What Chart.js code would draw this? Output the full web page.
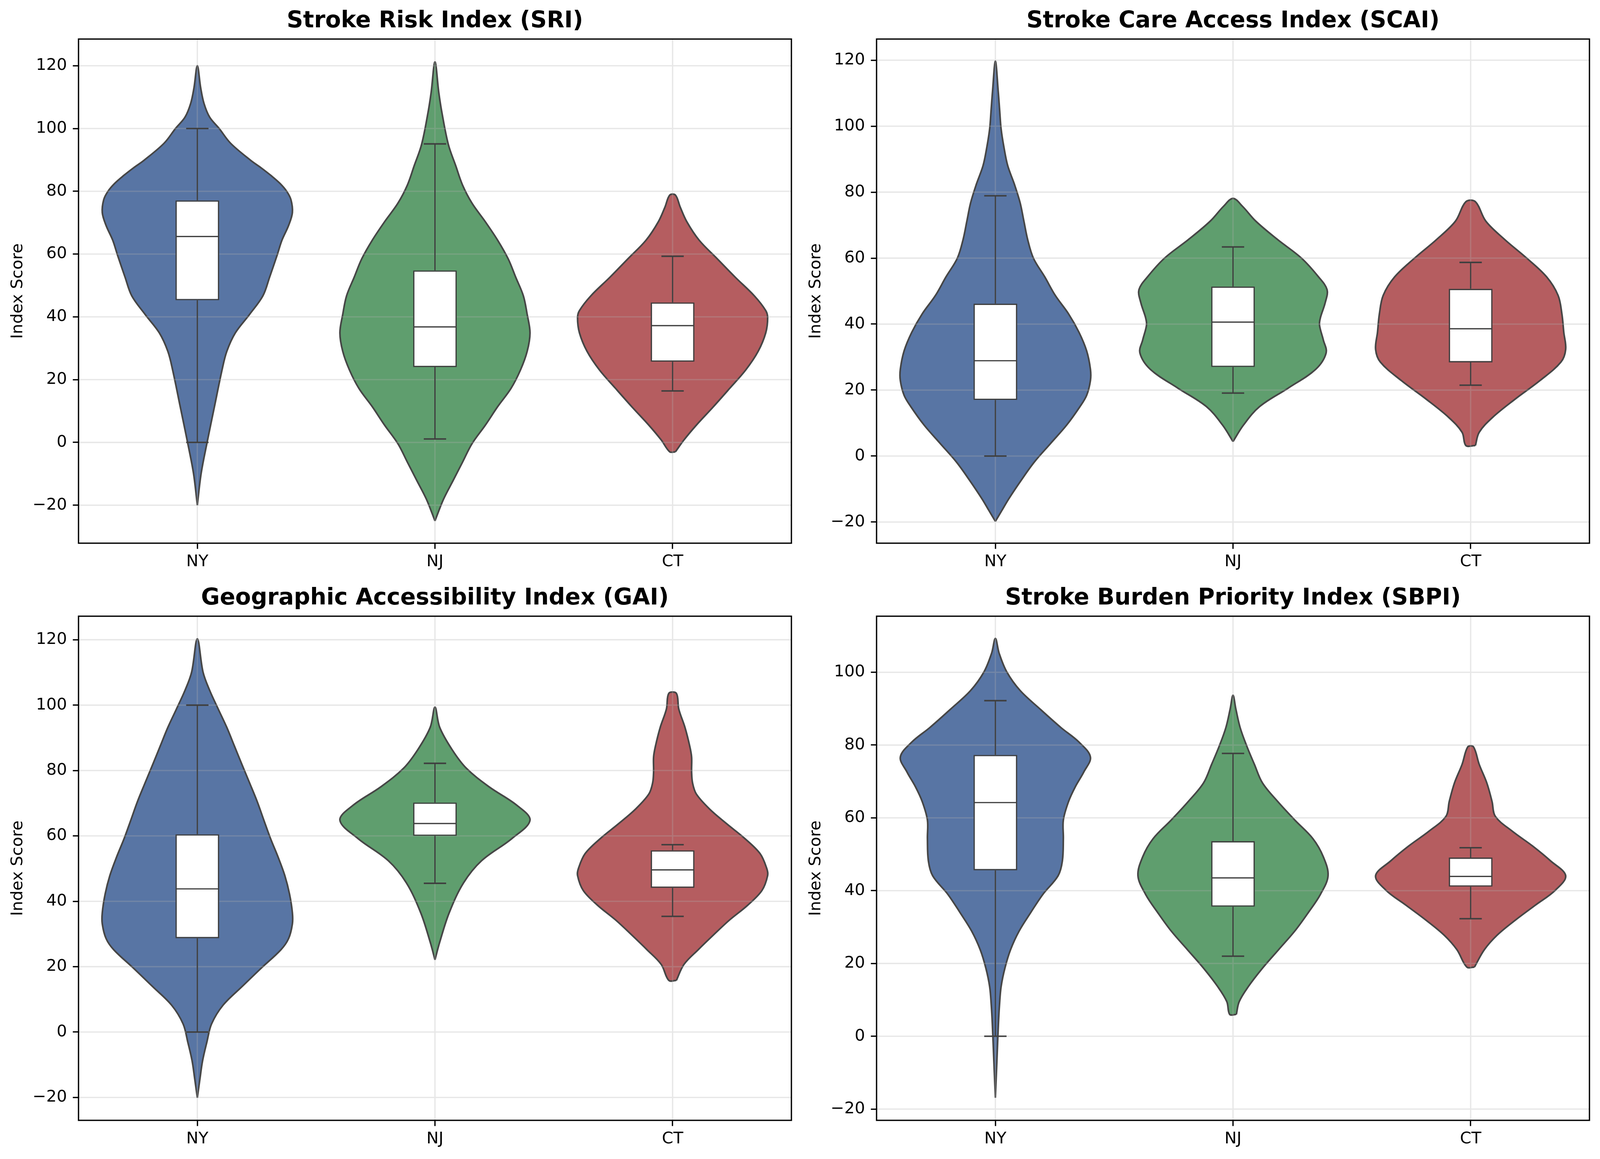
<!DOCTYPE html>
<html>
<head>
<meta charset="utf-8">
<title>Stroke indices by state</title>
<script src="https://cdn.jsdelivr.net/npm/chart.js@4.4.1/dist/chart.umd.min.js"></script>
<style>
  html, body { margin: 0; padding: 0; background: #fff; }
  body { width: 100vw; height: 2968px; position: relative; overflow: hidden; }
  .panel { position: absolute; }
  .panel canvas { display: block; }
</style>
</head>
<body>
<script>
// ---- data ----
const states = ["NY", "NJ", "CT"];
const titles = [
  "Stroke Risk Index (SRI)",
  "Stroke Care Access Index (SCAI)",
  "Geographic Accessibility Index (GAI)",
  "Stroke Burden Priority Index (SBPI)"
];
const yTicksTo120 = [-20, 0, 20, 40, 60, 80, 100, 120];
const yTicksTo100 = [-20, 0, 20, 40, 60, 80, 100];

// y limits of each panel
const sriRange = [-32.1, 128.5];
const scaiRange = [-26.4, 126.4];
const gaiRange = [-27.0, 127.2];
const sbpiRange = [-23.1, 115.4];

// violin outlines: [score, relative density width (1 = widest)]
const sriNY = [[-20,0],[-9.9,.04],[-0.4,.10],[11.4,.18],[23.1,.26],[29,.31],[34.9,.40],[40.8,.55],[46.7,.69],[52.6,.76],[59.7,.84],[64.4,.89],[69.1,.96],[73.2,1],[77.3,.985],[80,.94],[82.5,.87],[84.9,.78],[87.5,.67],[89.9,.56],[95.3,.35],[100,.23],[103.6,.13],[108,.07],[113,.035],[120,0]];
const sriNJ = [[-25,0],[-18.1,.09],[-12.2,.19],[-6.3,.29],[-0.4,.39],[5.5,.53],[11.4,.66],[17.2,.80],[23.1,.90],[29,.97],[34.9,1],[40.8,.97],[46.7,.93],[52.6,.85],[58.5,.77],[64.4,.66],[70.3,.53],[76.2,.39],[82,.29],[88,.22],[95,.14],[105.6,.07],[111.5,.04],[121.2,0]];
const sriCT = [[-3,.03],[0.8,.12],[5.5,.25],[11.4,.43],[17.2,.60],[23.1,.77],[29,.90],[34.9,.98],[39.7,1],[42,.98],[46.7,.86],[52.6,.66],[58.5,.47],[64.4,.28],[70.3,.15],[75,.08],[78.8,.03]];

const scaiNY = [[-19.8,0],[-16.4,.07],[-13,.14],[-7.4,.27],[-1.8,.41],[3.8,.58],[9.4,.75],[15,.89],[18.4,.96],[22.9,1],[26.3,1],[31.9,.96],[37.5,.88],[43.1,.77],[48.7,.63],[54.3,.52],[60,.4],[65.6,.34],[71.2,.3],[76.8,.26],[82.4,.2],[88,.13],[93.6,.09],[99.2,.06],[104.8,.045],[110.5,.03],[119.7,0]];
const scaiNJ = [[4.4,0],[9.4,.11],[15,.28],[20.6,.58],[26.3,.87],[31.3,.98],[35.2,.95],[39.7,.91],[42,.92],[46.5,.97],[50.4,.99],[54.3,.9],[60,.72],[65.6,.47],[71.2,.24],[75.7,.1],[78.1,0]];
const scaiCT = [[3.2,.05],[7.2,.09],[11.7,.23],[17.3,.47],[22.9,.73],[28.5,.95],[32.4,1],[37.5,.98],[43.1,.96],[48.7,.92],[54.3,.8],[60,.59],[65.6,.36],[71.2,.16],[77.1,.05]];

const gaiNY = [[-20.1,0],[-14.4,.027],[-8.8,.055],[-3.1,.1],[2.5,.15],[8.2,.27],[13.9,.47],[19.5,.67],[25.2,.88],[28.6,.96],[33.1,1],[36.5,1],[42.2,.97],[47.9,.92],[53.5,.85],[59.2,.77],[64.8,.7],[70.5,.63],[76.2,.55],[81.8,.47],[87.5,.39],[93.2,.31],[98.8,.22],[104.5,.13],[110.1,.06],[120.3,0]];
const gaiNJ = [[22.1,0],[27.5,.05],[36.5,.15],[45.6,.3],[52.4,.49],[59.2,.81],[64.8,1],[69.4,.86],[75,.57],[80.7,.33],[86.4,.18],[93.2,.05],[99.4,0]];
const gaiCT = [[15.8,.04],[20.7,.12],[25.2,.27],[29.7,.43],[34.3,.6],[38.8,.79],[43.3,.94],[47.9,1],[50.1,.99],[54.6,.92],[59.2,.76],[63.7,.57],[68.2,.39],[72.8,.25],[76.2,.21],[79.6,.2],[84.1,.2],[87.5,.18],[93.2,.13],[98.8,.065],[103.6,.04]];

const sbpiNY = [[-16.9,0],[-6.8,.016],[3.4,.032],[8.5,.043],[13.6,.06],[18.7,.1],[23.8,.16],[28.9,.25],[33.9,.37],[39,.5],[44.1,.66],[48.2,.705],[54.3,.715],[59.4,.715],[64.5,.77],[68.5,.84],[72.6,.93],[76.7,1],[80.8,.88],[84.8,.69],[89.9,.47],[95,.26],[100.1,.12],[105.2,.04],[109.3,0]];
const sbpiNJ = [[6,.035],[9.5,.065],[13.6,.16],[18.7,.31],[23.8,.48],[28.9,.65],[33.9,.79],[39,.92],[44.1,1],[49.3,.95],[54.3,.84],[59.4,.65],[64.5,.47],[69.6,.31],[74.7,.225],[79.7,.145],[84.8,.075],[89.9,.03],[93.7,0]];
const sbpiCT = [[19,.04],[23.8,.145],[27.8,.28],[31.9,.47],[36,.68],[40.1,.89],[44.1,1],[48.2,.84],[52.3,.65],[56.3,.44],[60.4,.26],[64.5,.225],[69.6,.17],[74.7,.09],[79.5,.03]];

// box plot statistics, order NY, NJ, CT
const sriQ1 = [45.3, 24.0, 25.7], sriMedian = [65.6, 36.8, 37.2], sriQ3 = [77.1, 54.8, 44.6];
const sriLow = [0, 1.1, 16.4], sriHigh = [100, 95.1, 59.3];
const scaiQ1 = [17.0, 27.0, 28.4], scaiMedian = [28.9, 40.6, 38.6], scaiQ3 = [46.2, 51.4, 50.7];
const scaiLow = [0, 19.1, 21.5], scaiHigh = [78.9, 63.4, 58.7];
const gaiQ1 = [28.7, 60.0, 44.1], gaiMedian = [43.8, 63.8, 49.6], gaiQ3 = [60.5, 70.2, 55.6];
const gaiLow = [0, 45.5, 35.4], gaiHigh = [100, 82.2, 57.3];
const sbpiQ1 = [45.6, 35.6, 41.1], sbpiMedian = [64.2, 43.5, 43.9], sbpiQ3 = [77.3, 53.6, 49.1];
const sbpiLow = [0, 22.0, 32.3], sbpiHigh = [92.2, 77.7, 51.8];

// ---- look ----
const PT = 300 / 72;                 // figure was 300 dpi
const SX = Math.min(1, window.innerWidth / 4167);   // viewport may be narrower than the figure
const violinFill = ["#5875a4", "#5f9e6e", "#b55d60"];
const violinEdge = "#464646";
const boxEdge = "#3f3f3f";
const VIOLIN_HALF = 0.4;             // widest half width, in category units
const BOX_HALF = 0.092, CAP_HALF = 0.047;
const axesLeft = [204, 2282], axesTop = [100, 1578];
const AXES_W = 1857, AXES_H = 1291;
const LEFT_SPACE = 204, TOP_SPACE = 100, BOTTOM_SPACE = 93, RIGHT_SPACE = 20;
const tickFont = { family: "DejaVu Sans", size: 10 * PT };
const titleFont = { family: "DejaVu Sans", size: 14 * PT, weight: "bold", lineHeight: 1 };

const panels = [
  { title: titles[0], range: sriRange, ticks: yTicksTo120, violins: [sriNY, sriNJ, sriCT],
    q1: sriQ1, median: sriMedian, q3: sriQ3, low: sriLow, high: sriHigh },
  { title: titles[1], range: scaiRange, ticks: yTicksTo120, violins: [scaiNY, scaiNJ, scaiCT],
    q1: scaiQ1, median: scaiMedian, q3: scaiQ3, low: scaiLow, high: scaiHigh },
  { title: titles[2], range: gaiRange, ticks: yTicksTo120, violins: [gaiNY, gaiNJ, gaiCT],
    q1: gaiQ1, median: gaiMedian, q3: gaiQ3, low: gaiLow, high: gaiHigh },
  { title: titles[3], range: sbpiRange, ticks: yTicksTo100, violins: [sbpiNY, sbpiNJ, sbpiCT],
    q1: sbpiQ1, median: sbpiMedian, q3: sbpiQ3, low: sbpiLow, high: sbpiHigh }
];

// outline of one violin: up the right side, back down the left side
function violinPoints(profile, center) {
  const right = profile.map(([v, w]) => ({ x: center + VIOLIN_HALF * w, y: v }));
  const left = profile.map(([v, w]) => ({ x: center - VIOLIN_HALF * w, y: v })).reverse();
  if (profile[profile.length - 1][1] === 0) left.shift();
  if (profile[0][1] > 0) left.push(right[0]);
  return right.concat(left);
}

function minusSign(v) {
  return v < 0 ? "\u2212" + Math.abs(v) : String(v);
}

// grid over the violins, whiskers, medians and the axes frame
const boxParts = {
  id: "boxParts",
  beforeDatasetDraw(chart, args) {
    if (args.meta.type !== "bar") return;
    const { ctx, chartArea: a, scales: { x, y } } = chart;
    ctx.save();
    ctx.strokeStyle = "rgba(176,176,176,0.3)";
    ctx.lineWidth = 0.8 * PT;
    ctx.beginPath();
    y.ticks.forEach(t => {
      const py = y.getPixelForValue(t.value);
      ctx.moveTo(a.left, py); ctx.lineTo(a.right, py);
    });
    x.ticks.forEach(t => {
      const px = x.getPixelForValue(t.value);
      ctx.moveTo(px, a.top); ctx.lineTo(px, a.bottom);
    });
    ctx.stroke();
    ctx.restore();
  },
  afterDatasetsDraw(chart, args, opts) {
    const { ctx, scales: { x, y } } = chart;
    ctx.save();
    ctx.strokeStyle = boxEdge;
    ctx.lineCap = "butt";
    states.forEach((s, i) => {
      const cx = x.getPixelForValue(i);
      const capL = x.getPixelForValue(i - CAP_HALF), capR = x.getPixelForValue(i + CAP_HALF);
      const boxL = x.getPixelForValue(i - BOX_HALF), boxR = x.getPixelForValue(i + BOX_HALF);
      const lo = y.getPixelForValue(opts.low[i]), hi = y.getPixelForValue(opts.high[i]);
      const q1 = y.getPixelForValue(opts.q1[i]), q3 = y.getPixelForValue(opts.q3[i]);
      const md = y.getPixelForValue(opts.median[i]);
      ctx.lineWidth = 3.2;
      ctx.beginPath();
      ctx.moveTo(cx, q1); ctx.lineTo(cx, lo);
      ctx.moveTo(cx, q3); ctx.lineTo(cx, hi);
      ctx.moveTo(boxL + 2, md); ctx.lineTo(boxR - 2, md);
      ctx.stroke();
      ctx.lineWidth = 3.8;
      ctx.beginPath();
      ctx.moveTo(capL, lo); ctx.lineTo(capR, lo);
      ctx.moveTo(capL, hi); ctx.lineTo(capR, hi);
      ctx.stroke();
    });
    ctx.restore();
  },
  afterDraw(chart) {
    const { ctx, chartArea: a } = chart;
    ctx.save();
    ctx.strokeStyle = "#000";
    ctx.lineWidth = 0.8 * PT;
    ctx.strokeRect(a.left, a.top, a.right - a.left, a.bottom - a.top);
    ctx.restore();
  }
};

Chart.defaults.font.family = "DejaVu Sans";
Chart.defaults.color = "#000";

panels.forEach((p, k) => {
  const col = k % 2, row = Math.floor(k / 2);
  const wrap = document.createElement("div");
  wrap.className = "panel";
  wrap.style.left = Math.round((axesLeft[col] - LEFT_SPACE) * SX) + "px";
  wrap.style.top = (axesTop[row] - TOP_SPACE) + "px";
  const canvas = document.createElement("canvas");
  canvas.width = Math.round((LEFT_SPACE + AXES_W + RIGHT_SPACE) * SX);
  canvas.height = TOP_SPACE + AXES_H + BOTTOM_SPACE;
  wrap.appendChild(canvas);
  document.body.appendChild(wrap);

  const datasets = [{
    type: "bar",
    data: states.map((s, i) => ({ x: i, y: [p.q1[i], p.q3[i]] })),
    backgroundColor: "#fff",
    borderColor: boxEdge,
    borderWidth: 3.4,
    borderSkipped: false,
    categoryPercentage: 1,
    barPercentage: 2 * BOX_HALF,
    order: 0
  }];
  p.violins.forEach((profile, i) => {
    datasets.push({
      type: "scatter",
      showLine: true,
      data: violinPoints(profile, i),
      fill: "shape",
      backgroundColor: violinFill[i],
      borderColor: violinEdge,
      borderWidth: 4.2,
      pointRadius: 0,
      tension: 0.35,
      order: 1
    });
  });

  new Chart(canvas, {
    type: "scatter",
    data: { datasets },
    plugins: [boxParts],
    options: {
      responsive: false,
      devicePixelRatio: 1,
      animation: false,
      events: [],
      layout: { padding: { left: 0, right: Math.round(RIGHT_SPACE * SX), top: 0, bottom: 0 } },
      plugins: {
        legend: { display: false },
        tooltip: { enabled: false },
        title: {
          display: true,
          text: p.title,
          fullSize: false,
          font: titleFont,
          color: "#000",
          padding: { top: 26, bottom: TOP_SPACE - 26 - titleFont.size }
        },
        boxParts: { q1: p.q1, median: p.median, q3: p.q3, low: p.low, high: p.high }
      },
      scales: {
        x: {
          type: "linear",
          min: -0.5,
          max: 2.5,
          offset: false,
          afterBuildTicks: s => { s.ticks = states.map((n, i) => ({ value: i })); },
          afterFit: s => { s.height = BOTTOM_SPACE; },
          ticks: {
            callback: v => states[Math.round(v)],
            font: tickFont,
            color: "#000",
            padding: 9,
            autoSkip: false,
            maxRotation: 0
          },
          grid: { offset: false, drawOnChartArea: false, tickLength: 3.5 * PT, tickColor: "#000", tickWidth: 0.8 * PT },
          border: { display: false }
        },
        y: {
          type: "linear",
          min: p.range[0],
          max: p.range[1],
          afterBuildTicks: s => { s.ticks = p.ticks.map(v => ({ value: v })); },
          afterFit: s => { s.width = Math.round(LEFT_SPACE * SX); },
          ticks: { callback: v => minusSign(v), font: tickFont, color: "#000", padding: 15 },
          grid: { drawOnChartArea: false, tickLength: 3.5 * PT, tickColor: "#000", tickWidth: 0.8 * PT },
          border: { display: false },
          title: {
            display: true,
            text: "Index Score",
            font: tickFont,
            color: "#000",
            padding: { top: 62 * SX - 14.4 - 25, bottom: 0 }
          }
        }
      }
    }
  });
});
</script>
</body>
</html>
